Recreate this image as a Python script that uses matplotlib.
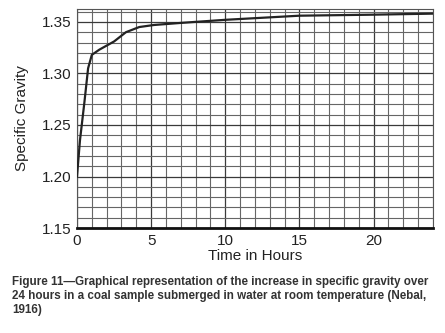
import numpy as np
import matplotlib
matplotlib.use('Agg')
import matplotlib.pyplot as plt
from matplotlib.ticker import MultipleLocator

# values (hours, specific gravity)
hours = [0, 0.2, 0.5, 0.75, 1.0, 1.5, 2.5, 3.3, 4.2, 5.2, 7, 10, 15, 20, 24]
sg = [1.20, 1.235, 1.272, 1.305, 1.318, 1.323, 1.331, 1.340, 1.345, 1.347,
      1.349, 1.352, 1.356, 1.357, 1.358]
xticks = [0, 5, 10, 15, 20]
yticks = [1.15, 1.20, 1.25, 1.30, 1.35]

plt.rcParams['font.family'] = ['Liberation Sans', 'DejaVu Sans']

fig = plt.figure(figsize=(4.45, 3.33), dpi=100)
ax = fig.add_axes([0.173, 0.315, 0.80, 0.658])

ax.plot(hours, sg, color='#222222', lw=1.6, zorder=3)

ax.set_xlim(0, 24)
ax.set_ylim(1.15, 1.3625)
ax.set_xticks(xticks)
ax.set_yticks(yticks)
ax.set_yticklabels(['%.2f' % v for v in yticks])
ax.xaxis.set_minor_locator(MultipleLocator(1))
ax.yaxis.set_minor_locator(MultipleLocator(0.01))
ax.grid(which='minor', color='#666666', lw=0.8)
ax.grid(which='major', color='#3a3a3a', lw=0.9)
ax.tick_params(which='both', length=0, labelsize=11, colors='#222222', pad=4)
for s in ['left', 'right', 'top']:
    ax.spines[s].set_color('#555555')
    ax.spines[s].set_linewidth(0.8)
ax.spines['bottom'].set_color('#111111')
ax.spines['bottom'].set_linewidth(2.0)

ax.set_xlabel('Time in Hours', fontsize=11, color='#222222', labelpad=1)
ax.set_ylabel('Specific Gravity', fontsize=11, color='#222222', labelpad=9)

caption = ('Figure 11\u2014Graphical representation of the increase in specific gravity over\n'
           '24 hours in a coal sample submerged in water at room temperature (Nebal,\n'
           '1916)')
fig.text(0.027, 0.111, caption, fontsize=8.4, fontweight='bold', color='#333333',
         va='center', ha='left', linespacing=1.2)

fig.savefig('out.png', dpi=100)
